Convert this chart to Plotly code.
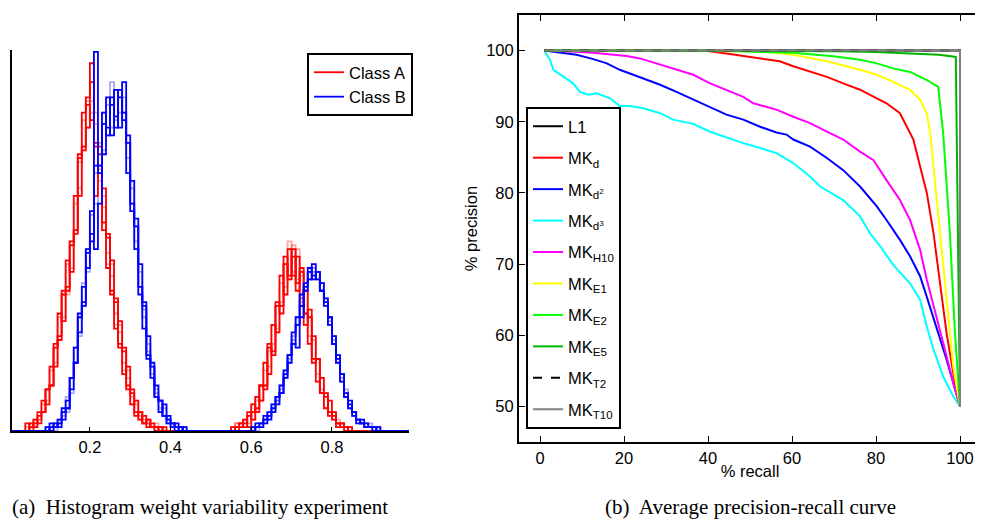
import plotly.graph_objects as go

# ---------------- (a) histogram data (bin width 0.01 on [0, 1]) ----------------
BIN_WIDTH = 0.01
A_LOW_START, A_HIGH_START = 0.04, 0.55
B_LOW_START, B_HIGH_START = 0.09, 0.60

a1_low = [0,2,1,4,5,11,12,23,25,36,38,49,53,72,75,80,97,76,73,55,51,37,34,23,21,12,10,5,5,2,3,1,0,1,0,0]
a2_low = [2,0,3,2,8,7,17,17,31,29,45,42,62,62,84,86,82,62,70,64,43,45,27,29,15,17,7,8,3,4,1,2,1,0,1,0]
a3_low = [0,1,2,5,5,11,12,22,24,37,37,50,52,73,74,88,92,75,75,53,52,36,35,22,22,11,11,4,5,2,3,1,1,1,0,0]
a4_low = [1,2,1,3,7,8,16,18,30,30,44,43,60,64,82,80,84,84,66,62,44,44,28,28,16,16,7,8,4,2,2,1,2,0,0,0]
a5_low = [0,1,3,3,5,11,12,22,24,36,36,50,53,71,75,87,87,81,69,59,47,41,31,26,18,14,9,7,3,3,2,1,0,1,0,0]

a1_high = [0,1,2,3,1,7,5,12,11,23,20,34,31,46,40,48,37,43,28,32,18,19,10,10,4,5,2,1,1,0,0]
a2_high = [1,0,2,1,5,3,9,8,18,15,28,26,41,36,48,41,46,33,37,23,25,13,14,6,8,3,2,2,0,1,0]
a3_high = [0,1,1,2,4,5,6,12,12,22,21,33,33,44,41,46,39,42,31,30,19,19,10,9,5,4,1,2,1,0,0]
a4_high = [1,2,2,3,2,7,9,8,16,17,28,27,39,38,50,42,48,35,37,25,24,15,14,6,5,5,2,1,1,1,0]
a5_high = [0,2,1,3,4,3,8,12,12,21,23,33,34,44,40,49,40,41,31,30,19,19,11,10,5,3,3,2,1,0,0]

b1_low = [0,1,2,1,5,6,14,18,30,34,47,52,100,70,81,80,86,83,88,84,76,60,54,38,33,20,17,9,8,4,3,1,2,0,1]
b2_low = [1,0,1,3,3,8,11,22,26,38,43,58,48,60,73,88,78,90,80,92,68,66,48,44,27,25,14,12,5,7,2,2,1,1,0]
b3_low = [0,2,1,2,6,6,14,18,31,33,48,50,70,68,84,78,88,80,90,82,78,58,56,36,34,19,18,9,8,4,4,2,0,1,0]
b4_low = [1,1,0,3,4,9,10,22,25,39,42,57,60,76,74,86,92,82,88,84,76,60,54,38,32,21,17,10,8,4,3,2,1,0,1]
b5_low = [0,1,2,2,5,5,14,18,30,33,48,50,68,68,84,78,80,90,84,88,72,64,50,42,30,23,15,11,6,6,2,1,1,1,0]

b1_high = [0,1,2,2,5,5,9,10,16,18,26,28,36,37,43,40,42,37,35,28,25,18,15,9,8,4,3,2,1,1,1,0,0]
b2_high = [1,1,1,3,4,7,7,12,14,20,23,22,30,39,40,44,40,39,33,30,23,20,13,10,6,5,3,2,2,1,0,1,0]
b3_high = [0,2,2,4,3,6,9,10,15,20,23,30,33,38,42,41,42,37,34,30,23,19,15,9,7,5,2,3,1,1,1,0,0]
b4_high = [1,0,2,3,5,5,8,12,14,19,25,28,35,37,42,43,40,39,33,29,25,18,14,11,6,5,3,2,2,1,1,1,0]
b5_high = [0,1,1,3,4,7,8,11,16,18,24,30,34,39,40,42,42,37,35,28,24,20,13,10,7,4,3,2,1,2,0,1,0]

hist_x_ticks = [0.2, 0.4, 0.6, 0.8]
hist_x_labels = ["0.2", "0.4", "0.6", "0.8"]

# ---------------- (b) precision-recall data ----------------
pr_names = ["L1", "MK<sub>d</sub>", "MK<sub>d<sup>2</sup></sub>", "MK<sub>d<sup>3</sup></sub>",
            "MK<sub>H10</sub>", "MK<sub>E1</sub>", "MK<sub>E2</sub>", "MK<sub>E5</sub>",
            "MK<sub>T2</sub>", "MK<sub>T10</sub>"]

l1_x = [1, 100, 100]
l1_y = [100, 100, 50]

mkd_x = [1, 30, 40, 44.4, 52.4, 57.1, 60.3, 64.3, 68.3, 72.2, 76.2, 80.2, 82.5, 85.7, 87.3, 88.9, 90.5, 92.1, 93.7, 95.2, 96.8, 98.4, 100]
mkd_y = [100, 100, 99.95, 99.6, 98.9, 98.5, 97.8, 97.0, 96.3, 95.4, 94.5, 93.3, 92.6, 91.2, 89.3, 87.5, 83.7, 80.0, 74.3, 67.3, 60.3, 54.7, 50]

mkd2_x = [1, 4.8, 8.7, 12.7, 15.9, 19.0, 24.6, 28.6, 32.5, 36.5, 40.5, 44.4, 48.4, 52.4, 56.3, 58.7, 60.3, 64.3, 68.3, 72.2, 76.2, 80.2, 82.5, 85.7, 88.1, 90.5, 92.1, 94.4, 96.8, 98.4, 100]
mkd2_y = [100, 99.7, 99.4, 98.8, 98.2, 97.3, 96.1, 95.2, 94.2, 93.1, 92.1, 91.0, 90.3, 89.3, 88.5, 88.2, 87.5, 86.5, 84.9, 83.2, 80.9, 78.1, 76.2, 73.4, 71.1, 68.3, 65.4, 61.2, 56.6, 53.3, 50]

mkd3_x = [1, 2.4, 3.2, 5.6, 7.9, 9.5, 11.5, 13.5, 16.7, 19.0, 21.4, 24.6, 28.6, 31.7, 36.5, 40.5, 44.4, 48.4, 52.4, 56.3, 60.3, 64.3, 66.7, 72.2, 76.2, 78.6, 81.0, 84.1, 88.1, 90.5, 92.1, 93.7, 96.0, 98.4, 100]
mkd3_y = [100, 98.7, 97.3, 96.3, 95.4, 94.2, 93.8, 94.0, 93.3, 92.2, 92.2, 91.9, 91.2, 90.3, 89.7, 88.6, 87.8, 87.0, 86.3, 85.6, 84.2, 82.3, 80.9, 79.0, 76.7, 74.3, 72.5, 69.9, 67.3, 65.0, 61.2, 58.0, 54.2, 51.4, 50]

mkh10_x = [1, 4.8, 12.7, 20.6, 23.8, 28.6, 32.5, 36.5, 40.5, 44.4, 48.4, 50.8, 56.3, 60.3, 64.3, 68.3, 72.2, 76.2, 79.4, 82.5, 85.7, 88.1, 90.5, 92.1, 93.7, 96.0, 98.4, 100]
mkh10_y = [100, 99.95, 99.7, 99.25, 98.9, 98.0, 97.3, 96.6, 95.4, 94.5, 93.5, 92.6, 91.7, 90.7, 89.8, 88.6, 87.5, 85.8, 84.6, 81.8, 79.0, 76.2, 72.0, 67.8, 64.0, 58.9, 53.3, 50]

mke1_x = [1, 45, 52.4, 60.3, 68.3, 76.2, 80.2, 84.1, 88.1, 90.5, 92.1, 92.9, 93.7, 95.2, 96.8, 98.4, 100]
mke1_y = [100, 100, 99.9, 99.4, 98.5, 97.3, 96.6, 95.6, 94.5, 93.1, 91.2, 88.4, 83.7, 74.3, 65.0, 55.6, 50]

mke2_x = [1, 40, 60.3, 69.8, 76.2, 80.2, 84.1, 88.1, 92.0, 94.8, 96.0, 97.6, 98.8, 100]
mke2_y = [100, 100, 99.7, 99.2, 98.7, 98.2, 97.5, 97.0, 95.9, 94.9, 88.4, 74.3, 60.3, 50]

mke5_x = [1, 60, 70, 80, 90, 95, 99, 100]
mke5_y = [100, 100, 99.9, 99.8, 99.6, 99.4, 99.1, 50]

mkt2_x = [1, 100, 100]
mkt2_y = [100, 100, 50]

mkt10_x = [1, 100, 100]
mkt10_y = [100, 100, 50]

pr_x_ticks = [0, 20, 40, 60, 80, 100]
pr_y_ticks = [50, 60, 70, 80, 90, 100]

# ---------------- build figure ----------------
# the page body has an 8px margin, so the figure is drawn 8px in from the window edge
OFF = 8
W, H = 983 - OFF, 520 - OFF
FONT = "Liberation Sans, Arial, sans-serif"
SERIF = "Liberation Serif, Times New Roman, serif"


def px(xp):
    return (xp - OFF) / W


def py(yp):
    return 1 - (yp - OFF) / H


def full_counts(low_start, low, high_start, high):
    n = int(round(1.0 / BIN_WIDTH))
    counts = [0] * n
    i0 = int(round(low_start / BIN_WIDTH))
    for k, v in enumerate(low):
        counts[i0 + k] = v
    i1 = int(round(high_start / BIN_WIDTH))
    for k, v in enumerate(high):
        counts[i1 + k] = v
    edges = [round(i * BIN_WIDTH, 4) for i in range(n + 1)]
    return edges, counts + [counts[-1]]


fig = go.Figure()

a_runs = [(a4_low, a4_high, True), (a5_low, a5_high, True),
          (a1_low, a1_high, False), (a2_low, a2_high, False), (a3_low, a3_high, False)]
b_runs = [(b4_low, b4_high, True), (b5_low, b5_high, True),
          (b1_low, b1_high, False), (b2_low, b2_high, False), (b3_low, b3_high, False)]

order = [("A", r) for r in a_runs if r[2]] + [("B", r) for r in b_runs if r[2]] + \
        [("A", r) for r in a_runs if not r[2]] + [("B", r) for r in b_runs if not r[2]]

shown = {"A": False, "B": False}
for cls, (low, high, faint) in order:
    if cls == "A":
        edges, ys = full_counts(A_LOW_START, low, A_HIGH_START, high)
        col = "rgba(255,0,0,0.35)" if faint else "rgb(255,0,0)"
        name = "Class A"
    else:
        edges, ys = full_counts(B_LOW_START, low, B_HIGH_START, high)
        col = "rgba(0,0,255,0.35)" if faint else "rgb(0,0,255)"
        name = "Class B"
    show = (not faint) and (not shown[cls])
    if show:
        shown[cls] = True
    fig.add_trace(go.Scatter(x=edges, y=ys, mode="lines", line=dict(shape="hv", color=col, width=1.8),
                             name=name, showlegend=show, legend="legend", legendrank=1 if cls == "A" else 2,
                             xaxis="x", yaxis="y", hoverinfo="skip"))

pr_series = [(l1_x, l1_y, "black", "solid"), (mkd_x, mkd_y, "#ff0000", "solid"),
             (mkd2_x, mkd2_y, "#0000ff", "solid"), (mkd3_x, mkd3_y, "#00ffff", "solid"),
             (mkh10_x, mkh10_y, "#ff00ff", "solid"), (mke1_x, mke1_y, "#ffff00", "solid"),
             (mke2_x, mke2_y, "#00ff00", "solid"), (mke5_x, mke5_y, "#00b400", "solid"),
             (mkt2_x, mkt2_y, "black", "dash"), (mkt10_x, mkt10_y, "#808080", "solid")]
for i, (name, (xs, ys, col, dash)) in enumerate(zip(pr_names, pr_series)):
    fig.add_trace(go.Scatter(x=xs, y=ys, mode="lines", name=name, legendgroup="g%d" % i,
                             line=dict(color=col, width=2, dash=dash),
                             legend="legend2", xaxis="x2", yaxis="y2"))

axis_font = dict(family=FONT, size=16.5, color="black")

fig.update_layout(
    width=W, height=H, margin=dict(l=0, r=0, t=0, b=0),
    paper_bgcolor="white", plot_bgcolor="white",
    font=dict(family=FONT, size=16.5, color="black"),
    xaxis=dict(domain=[px(12), px(409)], range=[0.007, 0.991], tickvals=hist_x_ticks, ticktext=hist_x_labels,
               ticks="inside", ticklen=4, tickcolor="black", showline=True, linecolor="black", linewidth=1.5,
               showgrid=False, zeroline=False, tickfont=axis_font, anchor="y", automargin=False),
    yaxis=dict(domain=[py(431), py(50)], range=[0, 100.5], showticklabels=False, ticks="",
               showline=True, linecolor="black", linewidth=2, showgrid=False, zeroline=False,
               anchor="x", automargin=False),
    xaxis2=dict(domain=[px(519), px(981)], range=[-5, 105], tickvals=pr_x_ticks,
                ticks="inside", ticklen=6, tickcolor="black", tickwidth=1.2, mirror="ticks", showline=True,
                linecolor="black", linewidth=2, showgrid=False, zeroline=False, tickfont=axis_font,
                title=dict(text="% recall", font=axis_font, standoff=0), anchor="y2", automargin=False),
    yaxis2=dict(domain=[py(442), py(15)], range=[45, 105], tickvals=pr_y_ticks,
                ticks="inside", ticklen=6, tickcolor="black", tickwidth=1.2, mirror="ticks", showline=True,
                linecolor="black", linewidth=2, showgrid=False, zeroline=False, tickfont=axis_font,
                title=dict(text="% precision", font=axis_font, standoff=4), anchor="x2", automargin=False),
    legend=dict(x=px(307), y=py(53), xanchor="left", yanchor="top", bgcolor="white",
                bordercolor="black", borderwidth=2, font=dict(family=FONT, size=16.5, color="black"),
                tracegroupgap=0, itemwidth=30),
    legend2=dict(x=px(526), y=py(107), xanchor="left", yanchor="top", bgcolor="white",
                 bordercolor="black", borderwidth=2, font=dict(family=FONT, size=16.5, color="black"),
                 tracegroupgap=7, itemwidth=30),
    annotations=[
        dict(text="(a)  Histogram weight variability experiment", x=px(200), y=py(507), xref="paper", yref="paper",
             xanchor="center", yanchor="middle", showarrow=False, font=dict(family=SERIF, size=21, color="black")),
        dict(text="(b)  Average precision-recall curve", x=px(750), y=py(507), xref="paper", yref="paper",
             xanchor="center", yanchor="middle", showarrow=False, font=dict(family=SERIF, size=21, color="black")),
    ],
)

fig.write_html("out.html")
